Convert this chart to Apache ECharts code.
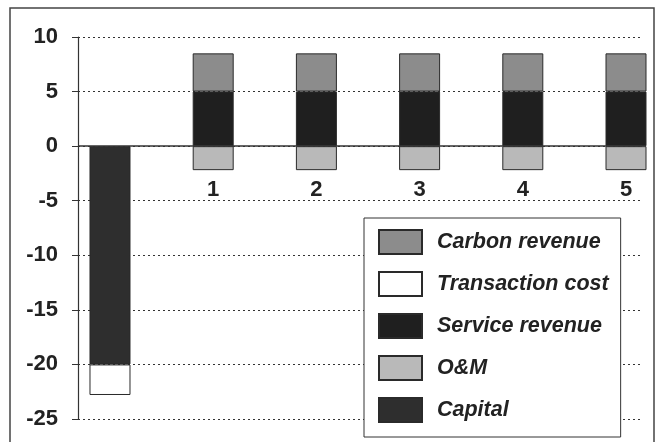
<!DOCTYPE html>
<html>
<head>
<meta charset="utf-8">
<script src="https://cdn.jsdelivr.net/npm/echarts@6/dist/echarts.min.js"></script>
<style>
  html, body { margin: 0; padding: 0; background: #fff; }
  #chart { width: 659px; height: 442px; }
</style>
</head>
<body>
<div id="chart"></div>
<script>
// bar slots: slot 1 = investment year, slots 2..6 = operating years 1..5
var slots = [1, 2, 3, 4, 5, 6];
var slotLabels = ['', '1', '2', '3', '4', '5'];

var capital = [-20, null, null, null, null, null];
var transactionCost = [-2.8, null, null, null, null, null];
var oAndM = [null, -2.2, -2.2, -2.2, -2.2, -2.2];
var serviceRevenue = [null, 5.0, 5.0, 5.0, 5.0, 5.0];
var carbonRevenue = [null, 3.5, 3.5, 3.5, 3.5, 3.5];

var yMin = -25, yMax = 10, yStep = 5;

var legendOrder = ['Carbon revenue', 'Transaction cost', 'Service revenue', 'O&M', 'Capital'];

var chart = echarts.init(document.getElementById('chart'));

// value first so the stack runs on the y values, slot second
function rows(values){
    return slots.map(function(s, i){ return [values[i], s]; });
}

function barSeries(name, values, color){
    return {
        name: name,
        type: 'bar',
        stack: 'cash',
        encode: { x: 1, y: 0 },
        barWidth: 41,
        clip: false,
        itemStyle: { color: color, borderColor: '#2a2a2a', borderWidth: 1 },
        data: rows(values)
    };
}

var font = 'Liberation Sans, Arial, sans-serif';

var series = [
    barSeries('Capital', capital, '#2e2e2e'),
    barSeries('Transaction cost', transactionCost, '#ffffff'),
    barSeries('O&M', oAndM, '#b9b9b9'),
    barSeries('Service revenue', serviceRevenue, '#1f1f1f'),
    barSeries('Carbon revenue', carbonRevenue, '#8c8c8c')
];
// solid zero line
series[4].markLine = {
    silent: true,
    symbol: 'none',
    label: { show: false },
    lineStyle: { color: '#333', type: 'solid', width: 1.5 },
    data: [{ yAxis: 0 }]
};

chart.setOption({
    animation: false,
    backgroundColor: '#fff',
    graphic: [{
        type: 'rect',
        shape: { x: 10, y: 8, width: 644, height: 445 },
        style: { fill: 'none', stroke: '#444', lineWidth: 1.5 },
        silent: true
    }],
    grid: { left: 78, right: 17, top: 37, bottom: 23 },
    legend: {
        data: legendOrder,
        orient: 'vertical',
        left: 364,
        top: 218,
        padding: [11, 12, 14, 14],
        icon: 'rect',
        itemWidth: 43,
        itemHeight: 24,
        itemGap: 16,
        backgroundColor: '#fff',
        borderColor: '#333',
        borderWidth: 1,
        borderRadius: 0,
        textStyle: { fontFamily: font, fontSize: 21.5, fontStyle: 'italic', fontWeight: 'bold', color: '#222', padding: [0, 0, 0, 10] }
    },
    xAxis: {
        type: 'value',
        // first bar sits just right of the y axis, bars 103 px apart
        min: 0.69,
        max: 6.155,
        axisLine: { show: false, onZero: false },
        axisTick: { show: false },
        splitLine: { show: false },
        axisLabel: {
            customValues: [2, 3, 4, 5, 6],
            formatter: function(v){ return slotLabels[Math.round(v) - 1]; },
            // labels sit under the zero line, not at the bottom
            margin: -240,
            fontFamily: font, fontSize: 22, fontWeight: 'bold', color: '#222'
        }
    },
    yAxis: {
        type: 'value',
        min: yMin,
        max: yMax,
        interval: yStep,
        axisLine: { show: true, lineStyle: { color: '#333', width: 1.2 } },
        axisTick: { show: true, length: 6, lineStyle: { color: '#333' } },
        axisLabel: {
            margin: 20,
            fontFamily: font, fontSize: 22, fontWeight: 'bold', color: '#222'
        },
        splitLine: { show: true, lineStyle: { color: '#333', type: [2, 3], width: 1.2 } }
    },
    series: series
});
</script>
</body>
</html>
